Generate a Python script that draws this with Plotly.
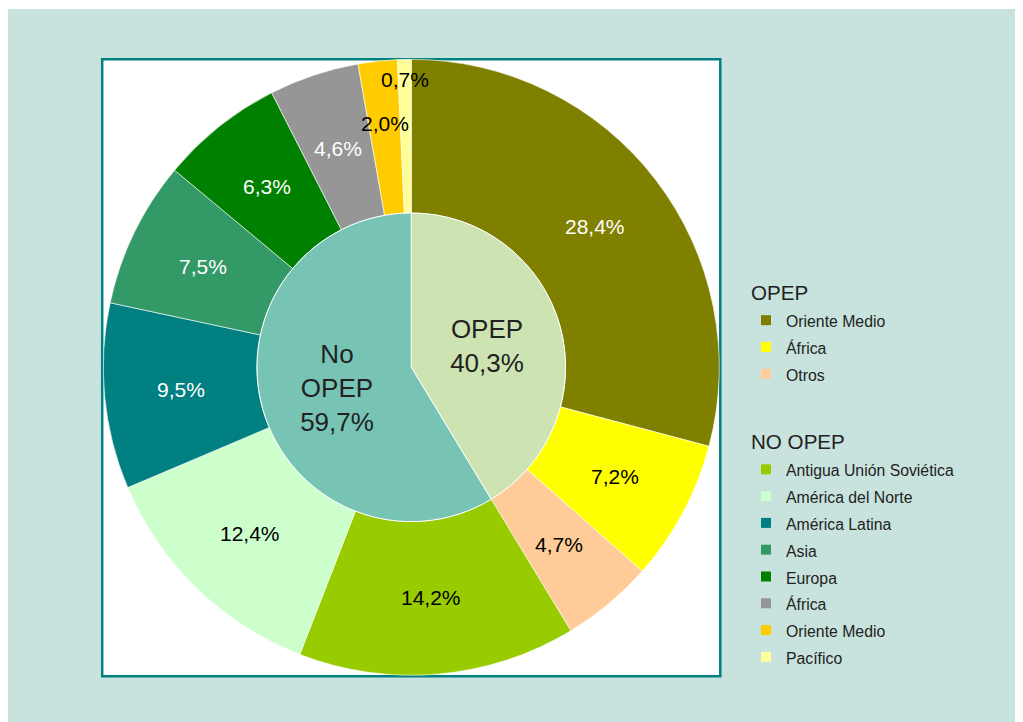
import math
import plotly.graph_objects as go

# page is shown with an 8px body margin, so the figure is drawn smaller and shifted
OFF = 8
W, H = 1023 - OFF, 722 - OFF

# ---------------- data ----------------
opep_labels = ["Oriente Medio", "África", "Otros"]
opep_values = [28.4, 7.2, 4.7]

noopep_labels = ["Antigua Unión Soviética", "América del Norte", "América Latina",
                 "Asia", "Europa", "África", "Oriente Medio", "Pacífico"]
noopep_values = [14.2, 12.4, 9.5, 7.5, 6.3, 4.6, 2.0, 0.7]

inner_labels = ["OPEP", "No<br>OPEP"]
inner_pct = ["40,3%", "59,7%"]

group_titles = ["OPEP", "NO OPEP"]

# ---------------- styles ----------------
opep_colors = ["#808000", "#FFFF00", "#FFCC99"]
noopep_colors = ["#99CC00", "#CCFFCC", "#008080", "#339966", "#008000",
                 "#969696", "#FFCC00", "#FFFF99"]
opep_text = ["white", "black", "black"]
noopep_text = ["black", "black", "white", "white", "white", "white", "black", "black"]
inner_colors = ["#CDE3B1", "#77C4B4"]

FONT = "Liberation Sans, Arial, sans-serif"
CX, CY, R = 411.3 - OFF, 367.3 - OFF, 308.0
RI = 154.3


def px2paper(x, y):
    return x / W, 1 - y / H


outer_values = opep_values + noopep_values
outer_ids = [f"OPEP|{l}" for l in opep_labels] + [f"NOOPEP|{l}" for l in noopep_labels]
outer_colors = opep_colors + noopep_colors
outer_tcolors = opep_text + noopep_text
fmt = lambda v: f"{v:.1f}%".replace(".", ",")

fig = go.Figure()

fig.add_trace(go.Pie(
    labels=outer_ids, values=outer_values, textinfo="none",
    sort=False, direction="clockwise", rotation=0, hole=RI / R,
    marker=dict(colors=outer_colors, line=dict(color="white", width=0.6)),
    domain=dict(x=[(CX - R) / W, (CX + R) / W], y=[1 - (CY + R) / H, 1 - (CY - R) / H]),
    showlegend=False, hoverinfo="skip",
))

inner_values = [sum(opep_values), sum(noopep_values)]
fig.add_trace(go.Pie(
    labels=inner_labels, values=inner_values,
    text=[f"{l}<br>{p}" for l, p in zip(inner_labels, inner_pct)],
    texttemplate="%{text}", textinfo="text",
    sort=False, direction="clockwise", rotation=0,
    marker=dict(colors=inner_colors, line=dict(color="white", width=1)),
    textfont=dict(family=FONT, size=26, color="#222222"),
    insidetextorientation="horizontal", textposition="inside",
    domain=dict(x=[(CX - RI) / W, (CX + RI) / W], y=[1 - (CY + RI) / H, 1 - (CY - RI) / H]),
    showlegend=False, hoverinfo="skip",
))

# outer ring labels at the mid angle of each slice
total = sum(outer_values)
cum = 0.0
annotations = []
for v, c in zip(outer_values, outer_tcolors):
    mid = (cum + v / 2) / total * 2 * math.pi
    cum += v
    if v < 1:
        rr = R * 0.935
    elif v < 3:
        rr = R * 0.795
    else:
        rr = (R + RI) / 2
    ax, ay = px2paper(CX + rr * math.sin(mid), CY - rr * math.cos(mid))
    annotations.append(dict(x=ax, y=ay, xref="paper", yref="paper",
                            xanchor="center", yanchor="middle",
                            text=fmt(v), showarrow=False,
                            font=dict(family=FONT, size=21, color=c)))

# legend entries (grouped)
for key, title, labels, colors in [("opep", group_titles[0], opep_labels, opep_colors),
                                   ("noopep", group_titles[1], noopep_labels, noopep_colors)]:
    for lab, col in zip(labels, colors):
        fig.add_trace(go.Scatter(
            x=[None], y=[None], mode="markers",
            name=f'<span style="font-size:15.8px">{lab}</span>',
            marker=dict(symbol="square", size=10, color=col),
            legendgroup=key,
            legendgrouptitle=dict(text=title, font=dict(family=FONT, size=20.6, color="#222222")),
            hoverinfo="skip",
        ))

lx, ly = px2paper(746 - OFF, 272 - OFF)
box_x0, box_y1 = px2paper(102.2 - OFF, 59.3 - OFF)
box_x1, box_y0 = px2paper(720.3 - OFF, 676.3 - OFF)
bg_x0, bg_y1 = px2paper(6 - OFF, 9 - OFF)

fig.update_layout(
    width=W, height=H,
    margin=dict(l=0, r=0, t=0, b=0),
    paper_bgcolor="white", plot_bgcolor="rgba(0,0,0,0)",
    font=dict(family=FONT, color="#222222"),
    xaxis=dict(visible=False), yaxis=dict(visible=False),
    legend=dict(x=lx, y=ly, xanchor="left", yanchor="top",
                bgcolor="rgba(0,0,0,0)", font=dict(family=FONT, size=18.3, color="#222222"),
                traceorder="grouped", tracegroupgap=39, itemwidth=30),
    annotations=annotations,
    shapes=[
        dict(type="rect", xref="paper", yref="paper", x0=bg_x0, x1=1.01, y0=-0.01, y1=bg_y1,
             fillcolor="#C8E3DD", line=dict(width=0), layer="below"),
        dict(type="rect", xref="paper", yref="paper", x0=box_x0, x1=box_x1,
             y0=box_y0, y1=box_y1,
             fillcolor="white", line=dict(color="#008080", width=2.5), layer="below"),
    ],
)

fig.write_html("out.html")
